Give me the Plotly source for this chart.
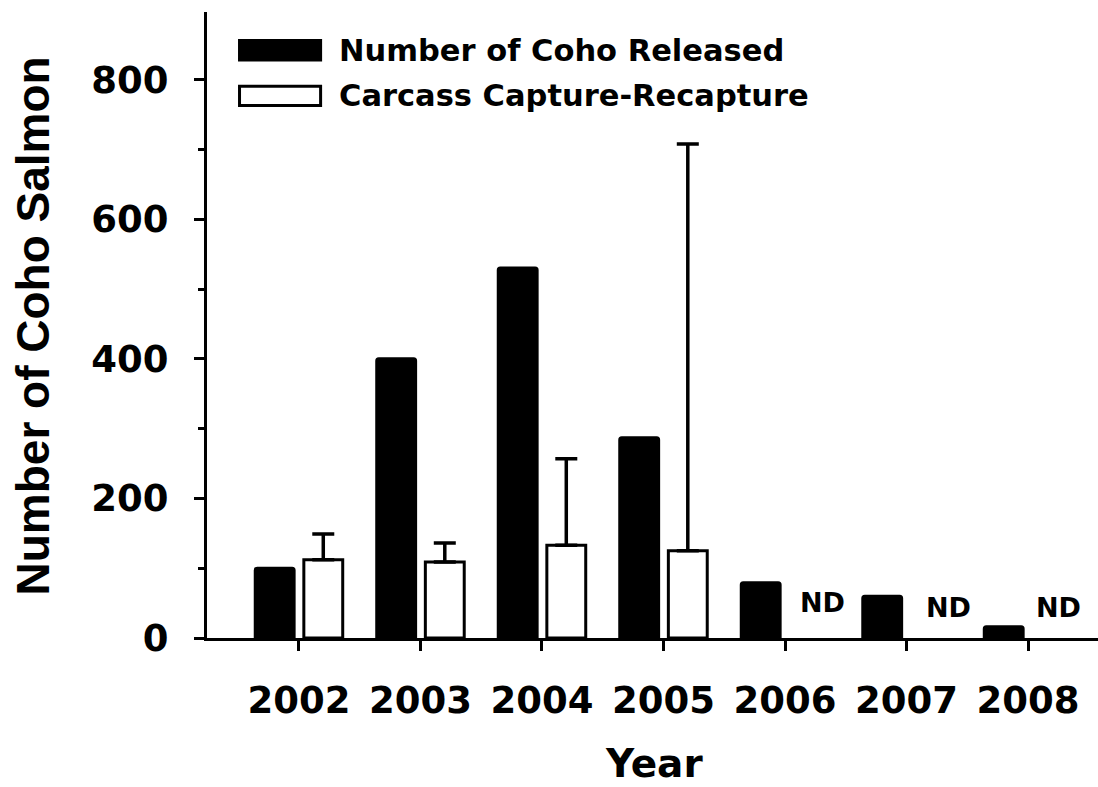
import plotly.graph_objects as go

# Coho salmon counts by return year
years = ["2002", "2003", "2004", "2005", "2006", "2007", "2008"]
released = [100, 400, 530, 287, 79, 60, 16]
carcass_est = [112, 109, 133, 125, None, None, None]
carcass_upper = [37, 27, 124, 583, None, None, None]
carcass_lower = [0, 0, 0, 0, None, None, None]

# years without a carcass estimate
nd_years = ["2006", "2007", "2008"]
nd_xshift = [37, 42, 30]
nd_yshift = [36, 31, 31]

series_names = ["Number of Coho Released", "Carcass Capture-Recapture"]

TICK_FONT = dict(family="DejaVu Sans", size=37, color="black", weight="bold")

fig = go.Figure()
fig.add_trace(go.Bar(
    x=years, y=released, name=series_names[0],
    marker=dict(color="black", line=dict(color="black", width=3), cornerradius=2),
    showlegend=False,
))
fig.add_trace(go.Bar(
    x=years, y=carcass_est, name=series_names[1],
    marker=dict(color="white", line=dict(color="black", width=3)),
    error_y=dict(type="data", symmetric=False, array=carcass_upper,
                 arrayminus=carcass_lower, color="black", thickness=3.5, width=11),
    showlegend=False,
))

# "ND" markers (category axis positions are given by index)
for yr, dx, dy in zip(nd_years, nd_xshift, nd_yshift):
    fig.add_annotation(x=years.index(yr), y=0, text="ND", showarrow=False,
                       xshift=dx, yshift=dy,
                       font=dict(family="DejaVu Sans", size=27, color="black", weight="bold"))

# Legend drawn as swatches plus labels
legend_rows = [(0.939, "black"), (0.866, "white")]
for (yc, fill), label in zip(legend_rows, series_names):
    fig.add_shape(type="rect", xref="paper", yref="paper",
                  x0=0.0365, x1=0.1275, y0=yc - 0.0155, y1=yc + 0.0155,
                  fillcolor=fill, line=dict(color="black", width=3))
    fig.add_annotation(xref="paper", yref="paper", x=0.146, y=yc, text=label,
                       showarrow=False, xanchor="left", yanchor="middle",
                       font=dict(family="DejaVu Sans", size=30.5, color="black", weight="bold"))

# Axis titles
fig.add_annotation(xref="paper", yref="paper", x=0.502, y=-0.2, text="Year",
                   showarrow=False, xanchor="center", yanchor="middle",
                   font=dict(family="DejaVu Sans", size=39, color="black", weight="bold"))
fig.add_annotation(xref="paper", yref="paper", x=-0.195, y=0.498, text="Number of Coho Salmon",
                   showarrow=False, textangle=-90, xanchor="center", yanchor="middle",
                   font=dict(family="Liberation Sans", size=46, color="black", weight="bold"))

fig.update_layout(
    width=1098, height=787,
    margin=dict(l=207, r=0, t=12, b=149),
    paper_bgcolor="white", plot_bgcolor="white",
    barmode="group", bargap=0.2, bargroupgap=0.2,
    showlegend=False,
)
fig.update_xaxes(
    type="category", range=[-0.757, 6.576],
    showline=True, linecolor="black", linewidth=3,
    ticks="outside", ticklen=10, tickwidth=3, tickcolor="black",
    tickfont=TICK_FONT, ticklabelstandoff=18,
    showgrid=False, zeroline=False,
)
fig.update_yaxes(
    range=[0, 897], tickvals=[0, 200, 400, 600, 800],
    showline=True, linecolor="black", linewidth=3,
    ticks="outside", ticklen=10, tickwidth=3, tickcolor="black",
    tickfont=TICK_FONT, ticklabelstandoff=18,
    minor=dict(tickvals=[100, 300, 500, 700], ticks="outside", ticklen=6,
               tickwidth=3, tickcolor="black", showgrid=False),
    showgrid=False, zeroline=False,
)

fig.write_html("out.html")
